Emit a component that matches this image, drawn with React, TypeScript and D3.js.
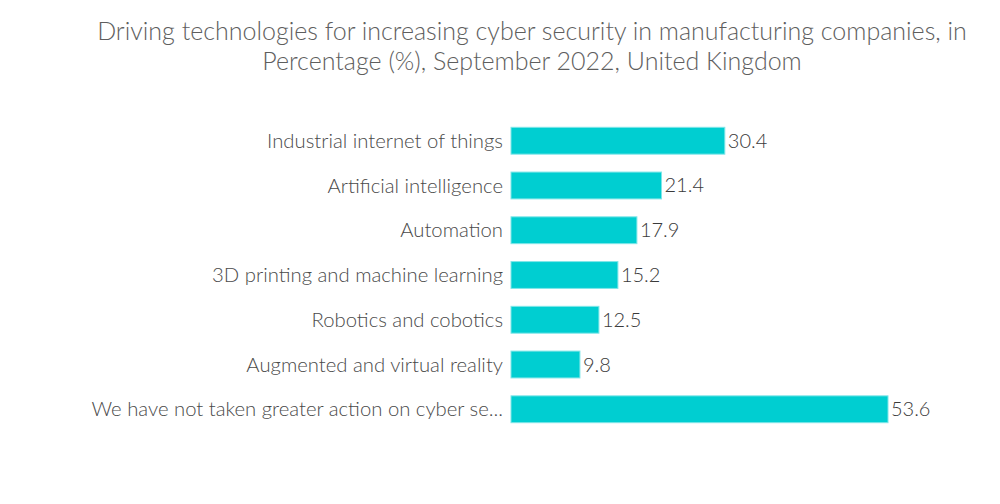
import { useEffect, useRef } from "react"
import * as d3 from "d3"

const categories = [
  "Industrial internet of things",
  "Artificial intelligence",
  "Automation",
  "3D printing and machine learning",
  "Robotics and cobotics",
  "Augmented and virtual reality",
  "We have not taken greater action on cyber se...",
]

const values = [30.4, 21.4, 17.9, 15.2, 12.5, 9.8, 53.6]

const titleLines = [
  "Driving technologies for increasing cyber security in manufacturing companies, in",
  "Percentage (%), September 2022, United Kingdom",
]

export default function App() {
  const svgRef = useRef<SVGSVGElement>(null)

  useEffect(() => {
    if (!svgRef.current) return
    const width = 1000
    const height = 504

    const svg = d3.select(svgRef.current)
    svg.selectAll("*").remove()
    svg.attr("width", width).attr("height", height)

    const x = d3.scaleLinear().domain([0, 53.6]).range([511, 888])
    const y = d3.scaleBand().domain(categories).range([109.4, 440.6]).padding(0.4)

    // title
    svg
      .append("g")
      .selectAll("text")
      .data(titleLines)
      .enter()
      .append("text")
      .attr("x", 532)
      .attr("y", (_d, i) => 40 + i * 30)
      .attr("text-anchor", "middle")
      .style("fill", "#5e5e5e")
      .style("font-family", "Lato, sans-serif")
      .style("font-weight", 300)
      .style("font-size", "25px")
      .text((d) => d)

    const rows = svg
      .append("g")
      .selectAll("g")
      .data(categories)
      .enter()
      .append("g")

    rows
      .append("rect")
      .attr("x", x(0))
      .attr("y", (d) => y(d) || 0)
      .attr("width", (_d, i) => x(values[i]) - x(0))
      .attr("height", y.bandwidth())
      .style("fill", "#00CED1")
      .style("stroke", "#7fe6e8")
      .style("stroke-width", 1)

    rows
      .append("text")
      .attr("x", x(0) - 8)
      .attr("y", (d) => (y(d) || 0) + y.bandwidth() / 2)
      .attr("dy", "0.35em")
      .attr("text-anchor", "end")
      .style("fill", "#4a4a4a")
      .style("font-family", "Lato, sans-serif")
      .style("font-weight", 300)
      .style("font-size", "20.3px")
      .text((d) => d)

    rows
      .append("text")
      .attr("x", (_d, i) => x(values[i]) + 3)
      .attr("y", (d) => (y(d) || 0) + y.bandwidth() / 2)
      .attr("dy", "0.35em")
      .style("fill", "#3a3a3a")
      .style("font-family", "Lato, sans-serif")
      .style("font-weight", 300)
      .style("font-size", "20px")
      .text((_d, i) => values[i].toFixed(1))
  }, [])

  return (
    <div style={{ position: "absolute", left: 0, top: 0 }}>
      <svg ref={svgRef}></svg>
    </div>
  )
}
